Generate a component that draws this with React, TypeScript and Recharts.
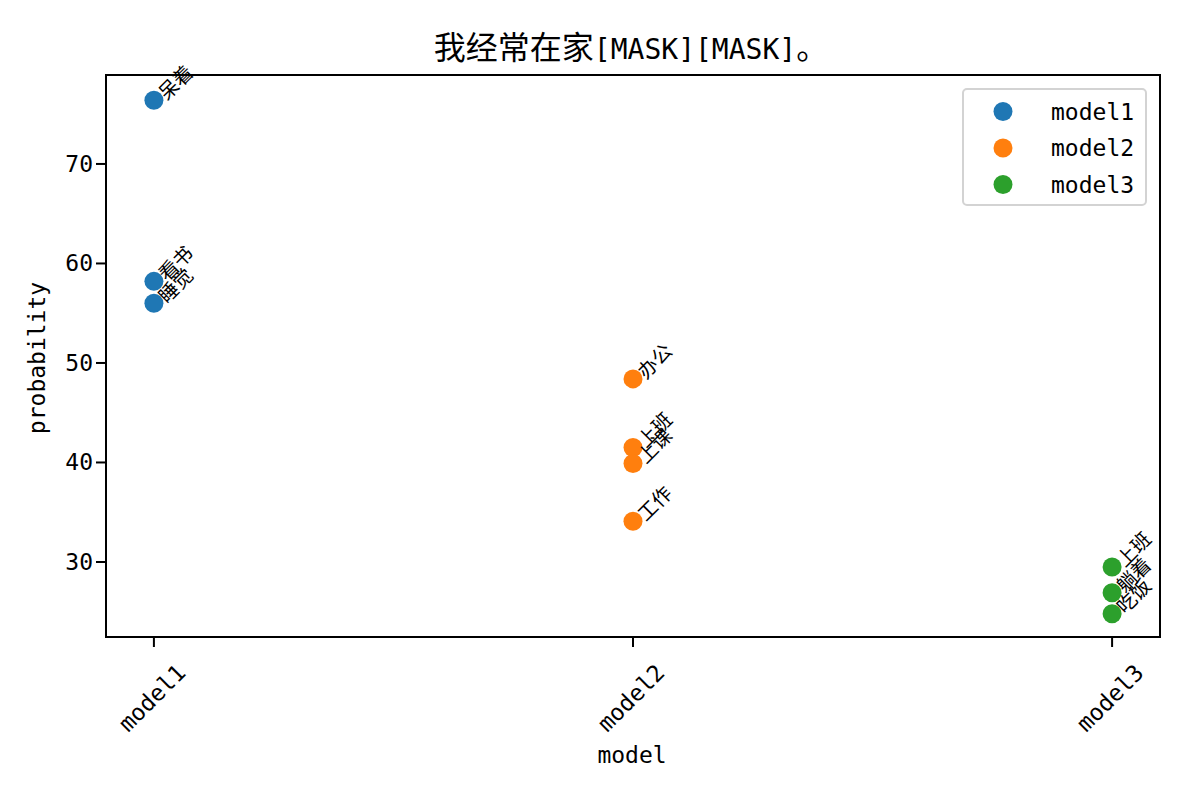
import React from "react";
import { ScatterChart, Scatter, XAxis, YAxis, LabelList } from "recharts";

const models = ["model1", "model2", "model3"];
const colors = ["#1f77b4", "#ff7f0e", "#2ca02c"];
const model1Words = ["呆着", "看书", "睡觉"];
const model1Values = [76.4, 58.2, 56.0];
const model2Words = ["办公", "上班", "上课", "工作"];
const model2Values = [48.4, 41.5, 39.9, 34.1];
const model3Words = ["上班", "躺着", "吃饭"];
const model3Values = [29.5, 26.9, 24.8];
const yTicks = [30, 40, 50, 60, 70];
const titleCjk = "我经常在家";
const titleMask = "[MASK][MASK]";
const titleEnd = "。";

const LATIN = "'DejaVu Sans Mono', 'Noto Sans CJK SC', monospace";
const CJK = "'Noto Sans CJK SC', sans-serif";

const build = (idx: number, words: string[], values: number[]) =>
  words.map((w, i) => ({ x: idx, y: values[i], label: w }));

const seriesData = [
  build(0, model1Words, model1Values),
  build(1, model2Words, model2Values),
  build(2, model3Words, model3Values),
];

const Dot = (color: string) => (props: any) => (
  <circle cx={props.cx} cy={props.cy} r={9.5} fill={color} />
);

const RotLabel = (props: any) => {
  const { x, y, width, height, value } = props;
  const cx = x + (width || 0) / 2;
  const cy = y + (height || 0) / 2;
  const tx = cx + 13;
  const ty = cy + 1;
  return (
    <text
      x={tx}
      y={ty}
      transform={`rotate(-45, ${tx}, ${ty})`}
      fontSize={19.5}
      fontFamily={CJK}
      fill="#000"
      textAnchor="start"
    >
      {value}
    </text>
  );
};

const XTick = (props: any) => {
  const { x, y, payload } = props;
  const tx = x - 2;
  const ty = y + 49;
  return (
    <text
      x={tx}
      y={ty}
      transform={`rotate(-45, ${tx}, ${ty})`}
      textAnchor="middle"
      dominantBaseline="central"
      fontSize={23}
      fontFamily={LATIN}
      fill="#000"
    >
      {models[payload.value]}
    </text>
  );
};

const YTick = (props: any) => {
  const { x, y, payload } = props;
  return (
    <text x={x - 1} y={y} textAnchor="end" dominantBaseline="central" fontSize={23} fontFamily={LATIN} fill="#000">
      {payload.value}
    </text>
  );
};

export default function App() {
  return (
    <div style={{ position: "absolute", left: 0, top: 0, width: 1191, height: 799, background: "#fff" }}>
      <ScatterChart width={1191} height={799} margin={{ top: 75, right: 31, left: 0, bottom: 0 }}>
        <rect x={106} y={75} width={1054} height={562} fill="none" stroke="#000" strokeWidth={2} />
        <XAxis
          type="number"
          dataKey="x"
          domain={[-0.1, 2.1]}
          ticks={[0, 1, 2]}
          height={162}
          tick={<XTick />}
          tickLine={{ stroke: "#000", strokeWidth: 2 }}
          tickSize={10}
          axisLine={{ stroke: "#000", strokeWidth: 2 }}
          allowDataOverflow
        />
        <YAxis
          type="number"
          dataKey="y"
          domain={[22.46, 78.94]}
          ticks={yTicks}
          width={106}
          tickSize={10}
          tickLine={{ stroke: "#000", strokeWidth: 2 }}
          axisLine={{ stroke: "#000", strokeWidth: 2 }}
          tick={<YTick />}
          allowDataOverflow
        />
        {seriesData.map((d, i) => (
          <Scatter
            key={models[i]}
            name={models[i]}
            data={d}
            fill={colors[i]}
            shape={Dot(colors[i])}
            isAnimationActive={false}
          >
            <LabelList dataKey="label" content={<RotLabel />} />
          </Scatter>
        ))}
      </ScatterChart>
      <svg
        width={1191}
        height={799}
        style={{ position: "absolute", left: 0, top: 0, pointerEvents: "none" }}
      >
        <text x={631} y={59} textAnchor="middle" fill="#000">
          <tspan fontFamily={CJK} fontSize={32}>{titleCjk}</tspan>
          <tspan fontFamily={LATIN} fontSize={28}>{titleMask}</tspan>
          <tspan fontFamily={CJK} fontSize={32}>{titleEnd}</tspan>
        </text>
        <text x={632} y={763} textAnchor="middle" fontFamily={LATIN} fontSize={23} fill="#000">
          model
        </text>
        <text
          x={45}
          y={358}
          transform="rotate(-90, 45, 358)"
          textAnchor="middle"
          fontFamily={LATIN}
          fontSize={23}
          fill="#000"
        >
          probability
        </text>
        <rect x={963} y={89} width={183} height={116} rx={4} fill="#fff" fillOpacity={0.8} stroke="#d3d3d3" strokeWidth={2} />
        {models.map((m, i) => (
          <g key={m}>
            <circle cx={1003} cy={111.5 + i * 36.5} r={9.5} fill={colors[i]} />
            <text x={1051} y={111.5 + i * 36.5} dominantBaseline="central" fontFamily={LATIN} fontSize={23} fill="#000">
              {m}
            </text>
          </g>
        ))}
      </svg>
    </div>
  );
}
